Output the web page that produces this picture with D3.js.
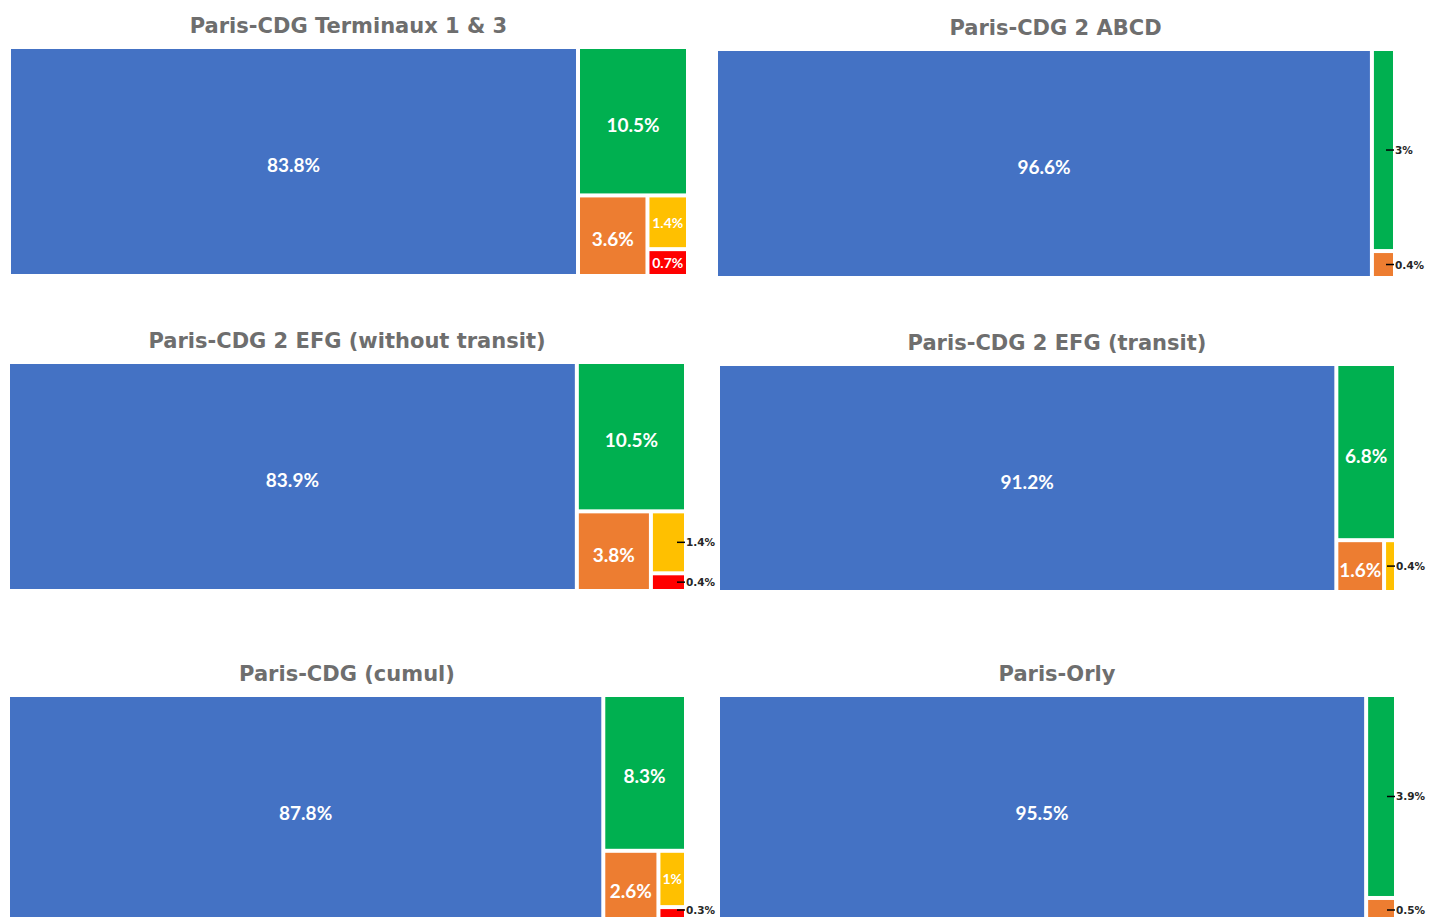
<!DOCTYPE html>
<html>
<head>
<meta charset="utf-8">
<script src="https://cdn.jsdelivr.net/npm/d3@7"></script>
<style>
  html, body { margin: 0; padding: 0; background: #ffffff; overflow: hidden; }
  svg { display: block; }
</style>
</head>
<body>
<svg id="chart" width="1432" height="917"></svg>
<script>
// ---- Data ----
const categories = ["Catégorie 1", "Catégorie 2", "Catégorie 3", "Catégorie 4", "Catégorie 5"];
const titles = [
  "Paris-CDG Terminaux 1 & 3",
  "Paris-CDG 2 ABCD",
  "Paris-CDG 2 EFG (without transit)",
  "Paris-CDG 2 EFG (transit)",
  "Paris-CDG (cumul)",
  "Paris-Orly"
];
const cdgT13 = [83.8, 10.5, 3.6, 1.4, 0.7];
const cdg2ABCD = [96.6, 3, 0.4];
const cdg2EFGNoTransit = [83.9, 10.5, 3.8, 1.4, 0.4];
const cdg2EFGTransit = [91.2, 6.8, 1.6, 0.4];
const cdgCumul = [87.8, 8.3, 2.6, 1, 0.3];
const orly = [95.5, 3.9, 0.5];
const seriesList = [cdgT13, cdg2ABCD, cdg2EFGNoTransit, cdg2EFGTransit, cdgCumul, orly];

// ---- Styles / layout ----
const colors = ["#4472C4", "#00B050", "#ED7D31", "#FFC000", "#FF0000"];
const panels = [
  {x0: 11, y0: 49, x1: 686, y1: 274},
  {x0: 718, y0: 51, x1: 1393, y1: 276},
  {x0: 10, y0: 364, x1: 684, y1: 589},
  {x0: 720, y0: 366, x1: 1394, y1: 590},
  {x0: 10, y0: 697, x1: 684, y1: 922},
  {x0: 720, y0: 697, x1: 1394, y1: 922}
];
const H = 917;

const svg = d3.select("#chart");
const color = d3.scaleOrdinal().domain(categories).range(colors);
const fmt = v => String(v) + "%";

const BIG = 19, SMALL = 14;
const labelFont = "Lato, 'Open Sans', sans-serif";

// measure helper
const measurer = svg.append("text").attr("visibility", "hidden")
  .attr("font-family", labelFont).attr("font-weight", 700);
function textW(t, size) {
  measurer.attr("font-size", size).text(t);
  return measurer.node().getComputedTextLength();
}

seriesList.forEach((vals, pi) => {
  const p = panels[pi];
  const g = svg.append("g");

  g.append("text")
    .attr("x", (p.x0 + p.x1) / 2)
    .attr("y", p.y0 - 16)
    .attr("text-anchor", "middle")
    .attr("font-family", "'DejaVu Sans', sans-serif")
    .attr("font-weight", 700)
    .attr("font-size", 21)
    .attr("fill", "#6e6e6e")
    .text(titles[pi]);

  const root = d3.hierarchy({children: vals.map((v, i) => ({name: categories[i], value: v}))})
    .sum(d => d.value || 0)
    .sort((a, b) => b.value - a.value);

  d3.treemap()
    .tile(d3.treemapSquarify.ratio(1))
    .size([p.x1 - p.x0, p.y1 - p.y0])
    .paddingInner(4)
    .round(false)(root);

  const cells = g.selectAll("g.cell").data(root.leaves()).join("g")
    .attr("class", "cell")
    .attr("transform", d => `translate(${p.x0 + d.x0},${p.y0 + d.y0})`);

  cells.append("rect")
    .attr("width", d => Math.max(0, d.x1 - d.x0))
    .attr("height", d => Math.max(0, d.y1 - d.y0))
    .attr("fill", d => color(d.data.name));

  cells.each(function(d) {
    const c = d3.select(this);
    const w = d.x1 - d.x0, h = d.y1 - d.y0;
    const t = fmt(d.data.value);
    const wb = textW(t, BIG), ws = textW(t, SMALL);
    // keep label visible inside the picture
    const absTop = p.y0 + d.y0;
    const cy = Math.min(h / 2 + 3, H - 7 - absTop);
    if (wb <= w && BIG * 0.8 <= h - 4) {
      c.append("text").attr("x", w / 2).attr("y", cy)
        .attr("text-anchor", "middle").attr("dominant-baseline", "central")
        .attr("font-family", labelFont).attr("font-weight", 700)
        .attr("font-size", BIG).attr("fill", "#ffffff").text(t);
    } else if (ws <= w - 2 && SMALL * 0.8 <= h - 4) {
      c.append("text").attr("x", w / 2).attr("y", Math.min(h / 2, H - 8 - absTop))
        .attr("text-anchor", "middle").attr("dominant-baseline", "central")
        .attr("font-family", labelFont).attr("font-weight", 700)
        .attr("font-size", SMALL).attr("fill", "#ffffff").text(t);
    } else {
      const ly = Math.min(h / 2, H - 7 - absTop);
      c.append("line")
        .attr("x1", w - 7).attr("x2", w + 1)
        .attr("y1", ly).attr("y2", ly)
        .attr("stroke", "#000").attr("stroke-width", 1.5);
      c.append("text").attr("x", w + 2).attr("y", ly)
        .attr("dominant-baseline", "central")
        .attr("font-family", "'DejaVu Sans', sans-serif").attr("font-weight", 700)
        .attr("font-size", 10.5).attr("fill", "#262626").text(t);
    }
  });
});
measurer.remove();
</script>
</body>
</html>
